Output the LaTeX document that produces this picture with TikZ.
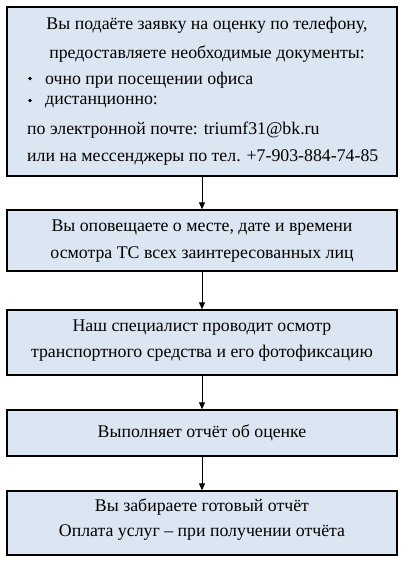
\documentclass[tikz,border=0pt]{standalone}
\usepackage{fontspec}
\setmainfont{Liberation Serif}
\usetikzlibrary{arrows.meta}
\definecolor{boxfill}{HTML}{DCE6F2}
\begin{document}
\begin{tikzpicture}[x=1pt,y=-1pt,
  stepbox/.style={draw=black,line width=1.3pt,fill=boxfill,minimum width=390pt,inner sep=0pt},
  txt/.style={font=\fontsize{17.8}{20}\selectfont,inner sep=0pt},
  ltxt/.style={txt,anchor=west},
  bul/.style={circle,fill=black,inner sep=0pt,minimum size=3.6pt},
  conn/.style={line width=0.9pt,-{Triangle[length=7pt,width=6pt]}}]
\useasboundingbox (0,0) rectangle (406,565);
\node[stepbox,minimum height=169pt] (b1) at (202,91.5) {};
\node[stepbox,minimum height=61pt] (b2) at (202,240.5) {};
\node[stepbox,minimum height=65pt] (b3) at (202,342.5) {};
\node[stepbox,minimum height=46pt] (b4) at (202,433) {};
\node[stepbox,minimum height=64pt] (b5) at (202,523) {};

\node[txt] (t11) at (207,25) {Вы подаёте заявку на оценку по телефону,};
\node[txt] (t12) at (207,54) {предоставляете необходимые документы:};
\node[bul] (bu1) at (30,78.5) {};
\node[ltxt] (t13) at (45,80) {очно при посещении офиса};
\node[bul] (bu2) at (30,100.5) {};
\node[ltxt] (t14) at (45,102) {дистанционно:};
\node[ltxt] (t15) at (27,130) {по электронной почте: triumf31@bk.ru};
\node[ltxt] (t16) at (27,157) {или на мессенджеры по тел. +7-903-884-74-85};

\node[txt] (t21) at (202,228) {Вы оповещаете о месте, дате и времени};
\node[txt] (t22) at (202,254) {осмотра ТС всех заинтересованных лиц};

\node[txt] (t31) at (202,328) {Наш специалист проводит осмотр};
\node[txt] (t32) at (202,353) {транспортного средства и его фотофиксацию};

\node[txt] (t41) at (202,433) {Выполняет отчёт об оценке};

\node[txt] (t51) at (202,507) {Вы забираете готовый отчёт};
\node[txt] (t52) at (202,533) {Оплата услуг – при получении отчёта};

\draw[conn] (b1.south) -- (b2.north);
\draw[conn] (b2.south) -- (b3.north);
\draw[conn] (b3.south) -- (b4.north);
\draw[conn] (b4.south) -- (b5.north);
\end{tikzpicture}
\end{document}
